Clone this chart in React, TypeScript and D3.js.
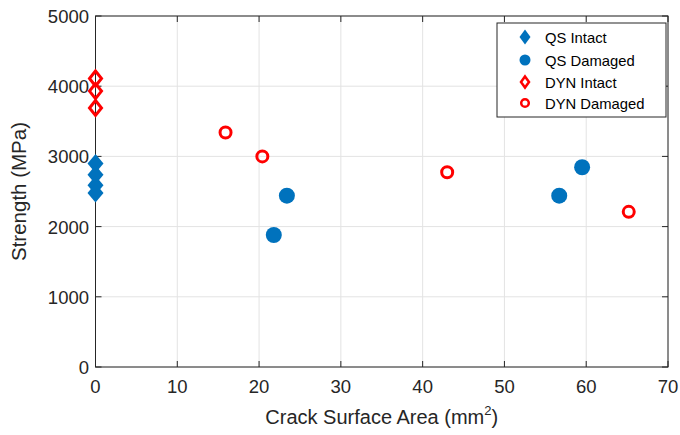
import React, { useEffect, useRef } from 'react';
import * as d3 from 'd3';

// values
const qsIntactX = [0, 0, 0, 0];
const qsIntactY = [2900, 2740, 2590, 2480];
const qsDamagedX = [21.8, 23.4, 56.7, 59.5];
const qsDamagedY = [1880, 2440, 2440, 2845];
const dynIntactX = [0, 0, 0];
const dynIntactY = [4110, 3930, 3690];
const dynDamagedX = [15.9, 20.4, 43.0, 65.2];
const dynDamagedY = [3340, 3000, 2775, 2210];

const xTicks = [0, 10, 20, 30, 40, 50, 60, 70];
const yTicks = [0, 1000, 2000, 3000, 4000, 5000];
const legendLabels = ['QS Intact', 'QS Damaged', 'DYN Intact', 'DYN Damaged'];

const BLUE = '#0072BD';
const RED = '#FF0000';
const AXIS = '#262626';

const App: React.FC = () => {
  const svgRef = useRef<SVGSVGElement>(null);

  useEffect(() => {
    if (!svgRef.current) return;
    const width = 680;
    const height = 435;
    const margin = { top: 16, right: 12, bottom: 68, left: 95.5 };

    const svg = d3.select(svgRef.current);
    svg.selectAll('*').remove();
    svg.style('font-family', 'Liberation Sans, Arial, sans-serif');

    const x = d3.scaleLinear().domain([0, 70]).range([margin.left, width - margin.right]);
    const y = d3.scaleLinear().domain([0, 5000]).range([height - margin.bottom, margin.top]);

    const [x0, x1] = x.range();
    const [y0, y1] = y.range();

    // grid
    const grid = svg.append('g');
    grid.selectAll('line.gx')
      .data(xTicks)
      .enter().append('line')
      .attr('x1', d => x(d)).attr('x2', d => x(d))
      .attr('y1', y1).attr('y2', y0)
      .attr('stroke', '#e3e3e3').attr('stroke-width', 1);
    grid.selectAll('line.gy')
      .data(yTicks)
      .enter().append('line')
      .attr('x1', x0).attr('x2', x1)
      .attr('y1', d => y(d)).attr('y2', d => y(d))
      .attr('stroke', '#e3e3e3').attr('stroke-width', 1);

    // axes box
    svg.append('rect')
      .attr('x', x0).attr('y', y1)
      .attr('width', x1 - x0).attr('height', y0 - y1)
      .attr('fill', 'none').attr('stroke', AXIS).attr('stroke-width', 1);

    // inward ticks on all four sides
    const tl = 6;
    const ticks = svg.append('g').attr('stroke', AXIS).attr('stroke-width', 1);
    xTicks.forEach(t => {
      ticks.append('line').attr('x1', x(t)).attr('x2', x(t)).attr('y1', y0).attr('y2', y0 - tl);
      ticks.append('line').attr('x1', x(t)).attr('x2', x(t)).attr('y1', y1).attr('y2', y1 + tl);
    });
    yTicks.forEach(t => {
      ticks.append('line').attr('x1', x0).attr('x2', x0 + tl).attr('y1', y(t)).attr('y2', y(t));
      ticks.append('line').attr('x1', x1).attr('x2', x1 - tl).attr('y1', y(t)).attr('y2', y(t));
    });

    // tick labels
    svg.append('g').selectAll('text')
      .data(xTicks)
      .enter().append('text')
      .attr('x', d => x(d)).attr('y', y0 + 26)
      .attr('text-anchor', 'middle')
      .attr('font-size', 18.5).attr('fill', AXIS)
      .text(d => d);
    svg.append('g').selectAll('text')
      .data(yTicks)
      .enter().append('text')
      .attr('x', x0 - 6.5).attr('y', d => y(d) + 7)
      .attr('text-anchor', 'end')
      .attr('font-size', 18.5).attr('fill', AXIS)
      .text(d => d);

    // axis labels
    const xl = svg.append('text')
      .attr('x', (x0 + x1) / 2).attr('y', 424)
      .attr('text-anchor', 'middle')
      .attr('font-size', 20).attr('fill', AXIS);
    xl.append('tspan').text('Crack Surface Area (mm');
    xl.append('tspan').attr('font-size', 13).attr('dy', -9).text('2');
    xl.append('tspan').attr('dy', 9).text(')');

    svg.append('text')
      .attr('transform', `translate(26,${(y0 + y1) / 2}) rotate(-90)`)
      .attr('text-anchor', 'middle')
      .attr('font-size', 20.5).attr('fill', AXIS)
      .text('Strength (MPa)');

    const diamond = (cx: number, cy: number, hw: number, hh: number) =>
      `M${cx},${cy - hh}L${cx + hw},${cy}L${cx},${cy + hh}L${cx - hw},${cy}Z`;

    const marks = svg.append('g');
    // QS intact
    marks.selectAll('path.qsi')
      .data(d3.zip(qsIntactX, qsIntactY))
      .enter().append('path')
      .attr('d', d => diamond(x(d[0]), y(d[1]), 8, 9.5))
      .attr('fill', BLUE);
    // QS damaged
    marks.selectAll('circle.qsd')
      .data(d3.zip(qsDamagedX, qsDamagedY))
      .enter().append('circle')
      .attr('cx', d => x(d[0])).attr('cy', d => y(d[1]))
      .attr('r', 8).attr('fill', BLUE);
    // DYN intact
    marks.selectAll('path.dyni')
      .data(d3.zip(dynIntactX, dynIntactY))
      .enter().append('path')
      .attr('d', d => diamond(x(d[0]), y(d[1]), 6, 7.5))
      .attr('fill', 'none').attr('stroke', RED).attr('stroke-width', 3);
    // DYN damaged
    marks.selectAll('circle.dynd')
      .data(d3.zip(dynDamagedX, dynDamagedY))
      .enter().append('circle')
      .attr('cx', d => x(d[0])).attr('cy', d => y(d[1]))
      .attr('r', 5.5).attr('fill', 'none')
      .attr('stroke', RED).attr('stroke-width', 3);

    // legend
    const lg = svg.append('g');
    lg.append('rect')
      .attr('x', 497).attr('y', 23).attr('width', 169).attr('height', 94)
      .attr('fill', '#fff').attr('stroke', AXIS).attr('stroke-width', 1);
    const ly = [37, 60, 82, 103];
    const lx = 525;
    lg.append('path').attr('d', diamond(lx, ly[0], 5.5, 7.5)).attr('fill', BLUE);
    lg.append('circle').attr('cx', lx).attr('cy', ly[1]).attr('r', 5.5).attr('fill', BLUE);
    lg.append('path').attr('d', diamond(lx, ly[2], 4, 5.5))
      .attr('fill', 'none').attr('stroke', RED).attr('stroke-width', 2.5);
    lg.append('circle').attr('cx', lx).attr('cy', ly[3]).attr('r', 3.8)
      .attr('fill', 'none').attr('stroke', RED).attr('stroke-width', 2.5);
    lg.selectAll('text.lab')
      .data(legendLabels)
      .enter().append('text')
      .attr('x', 545).attr('y', (_, i) => ly[i] + 5.5)
      .attr('font-size', 14.8).attr('fill', '#000')
      .text(d => d);
  }, []);

  return (
    <div style={{ position: 'fixed', left: 0, top: 0, width: 680, height: 435, overflow: 'hidden', background: '#fff' }}>
      <svg ref={svgRef} width={680} height={435} style={{ display: 'block' }}></svg>
    </div>
  );
};

export default App;
